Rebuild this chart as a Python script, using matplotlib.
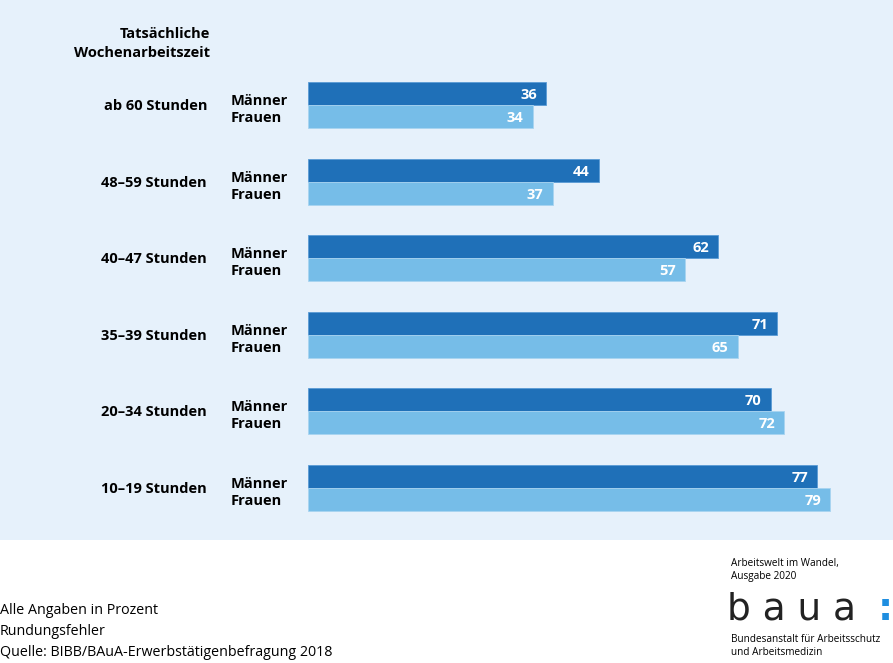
import matplotlib.pyplot as plt
from matplotlib.patches import Rectangle

categories = ['ab 60 Stunden', '48\u201359 Stunden', '40\u201347 Stunden',
              '35\u201339 Stunden', '20\u201334 Stunden', '10\u201319 Stunden']
maenner = [36, 44, 62, 71, 70, 77]
frauen = [34, 37, 57, 65, 72, 79]

W, H = 893, 663
dark = '#1f70b8'
light = '#76bde8'
bg = '#e6f1fb'
font = 'Open Sans'

fig = plt.figure(figsize=(W / 100, H / 100), dpi=100)
fig.patches.append(Rectangle((0, (H - 540) / H), 1, 540 / H, transform=fig.transFigure,
                             facecolor=bg, edgecolor='none', zorder=-5))

# bar axes: starts at x=308px, 6.61 px per percent
x0 = 308
ax = fig.add_axes([x0 / W, 0, (W - x0) / W, 1], zorder=2)
ax.set_xlim(0, (W - x0) / 6.61)
step = 76.6
ax.set_ylim((H - 105) / step, -105 / step)
ax.axis('off')
ax.patch.set_alpha(0)

y = list(range(len(categories)))
bh = 23 / step
px = 1 / step
ax.barh([i - bh / 2 for i in y], maenner, height=bh, color=dark, edgecolor='#5a9bd5', linewidth=0.6)
ax.barh([i + bh / 2 for i in y], frauen, height=bh, color=light, edgecolor='#a8d4f0', linewidth=0.6)

off = 9 / 6.61
for i in y:
    ax.text(maenner[i] - off, i - bh / 2 + 1.5 * px, str(maenner[i]), color='white', fontweight='bold',
            ha='right', va='center', fontsize=10.5, family=font)
    ax.text(frauen[i] - off, i + bh / 2 + 1.5 * px, str(frauen[i]), color='white', fontweight='bold',
            ha='right', va='center', fontsize=10.5, family=font)

# left labels, positioned from the same y scale (baselines)
for i in y:
    yc = ax.transData.transform((0, i + 5 * px))[1] / H
    ym = ax.transData.transform((0, i))[1] / H
    yf = ax.transData.transform((0, i + 17 * px))[1] / H
    fig.text(207 / W, yc, categories[i], ha='right', va='baseline', fontsize=10.5,
             fontweight='bold', family=font)
    fig.text(231 / W, ym, 'M\u00e4nner', ha='left', va='baseline', fontsize=10.5,
             fontweight='bold', family=font)
    fig.text(231 / W, yf, 'Frauen', ha='left', va='baseline', fontsize=10.5,
             fontweight='bold', family=font)

fig.text(210 / W, 1 - 38 / H, 'Tats\u00e4chliche', ha='right', va='baseline',
         fontsize=10.5, fontweight='bold', family=font)
fig.text(210 / W, 1 - 57 / H, 'Wochenarbeitszeit', ha='right', va='baseline',
         fontsize=10.5, fontweight='bold', family=font)

# footer notes
notes = ['Alle Angaben in Prozent', 'Rundungsfehler',
         'Quelle: BIBB/BAuA-Erwerbst\u00e4tigenbefragung 2018']
for k, line in enumerate(notes):
    fig.text(0, 1 - (614 + 21 * k) / H, line, ha='left', va='baseline', fontsize=10.3, family=font)

# logo block
fig.text(731 / W, 1 - 570 / H, 'Arbeitswelt im Wandel,\nAusgabe 2020', ha='left',
         va='center', fontsize=7.2, family=font, linespacing=1.3)
fig.text(727 / W, 1 - 610 / H, 'b a u a', ha='left', va='center', fontsize=27,
         family='DejaVu Sans', color='#222222')
fig.text(878 / W, 1 - 610 / H, ':', ha='left', va='center', fontsize=27,
         family='DejaVu Sans', fontweight='bold', color='#1f8ee0')
fig.text(731 / W, 1 - 646 / H, 'Bundesanstalt f\u00fcr Arbeitsschutz\nund Arbeitsmedizin',
         ha='left', va='center', fontsize=7.2, family=font, linespacing=1.3)

fig.savefig('out.png', dpi=100)
